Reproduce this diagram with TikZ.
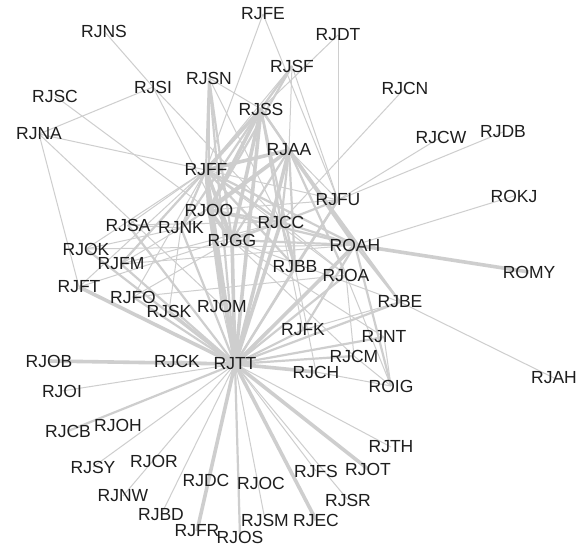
\documentclass[tikz,border=0pt]{standalone}
\usepackage{fontspec}
\setmainfont{Liberation Sans}
\definecolor{edgegray}{RGB}{206,206,206}
\definecolor{labelink}{RGB}{30,30,30}
\pgfdeclarelayer{edges}
\pgfsetlayers{edges,main}
\tikzset{
  lbl/.style={inner sep=0pt, text=labelink, font=\fontsize{17.5}{17.5}\selectfont},
  wthin/.style={draw=edgegray, line width=1pt},
  wmid/.style={draw=edgegray, line width=2.2pt},
  wthick/.style={draw=edgegray, line width=3.6pt},
}
\begin{document}
\begin{tikzpicture}[x=1pt,y=-1pt]
\useasboundingbox (0,0) rectangle (581,546);

% vertices
\foreach \n/\x/\y in {
  RJFE/263/14, RJNS/104/31, RJDT/338/35, RJSF/292/66, RJSN/209/78,
  RJSI/153/87, RJCN/405/88, RJSC/55/96, RJSS/261/109, RJNA/39/134,
  RJCW/441/137, RJDB/503/132, RJAA/289/150, RJFF/206/170, RJFU/338/200,
  ROKJ/514/196, RJOO/209/210, RJCC/281/222, RJSA/128/225, RJNK/181/228,
  RJGG/232/240, ROAH/355/245, RJOK/86/249, RJFM/121/264, RJBB/295/267,
  RJOA/346/275, ROMY/529/272, RJFT/79/287, RJFO/133/297, RJBE/400/302,
  RJSK/169/311, RJOM/222/306, RJFK/303/330, RJNT/384/337, RJCM/354/356,
  RJOB/49/361, RJCK/177/361, RJTT/235/364, RJCH/316/372, ROIG/391/386,
  RJAH/554/378, RJOI/62/391, RJCB/68/431, RJOH/118/425, RJSY/93/467,
  RJOR/154/461, RJNW/123/496, RJDC/206/480, RJOC/261/483, RJFS/316/471,
  RJOT/368/469, RJTH/391/447, RJSR/348/500, RJBD/161/515, RJEC/316/520,
  RJSM/265/520, RJFR/197/531, RJOS/240/537}
  \node[lbl] (\n) at (\x,\y) {\n};

\begin{pgfonlayer}{edges}
\fill[white] (0,0) rectangle (581,546);
% light ties
\foreach \a/\b in {
  RJFE/RJFF, RJFE/RJFU, RJDT/RJSS, RJDT/RJFU, RJSF/RJAA, RJSF/RJFU,
  RJSF/RJFF, RJSN/RJSS, RJSN/RJCC, RJNS/RJSI, RJSI/RJNA, RJSI/RJGG,
  RJSI/RJCC, RJSC/RJOO, RJNA/RJFF, RJNA/RJFT, RJNA/RJOM, RJCN/RJCC,
  RJCW/RJFU, RJDB/RJFU, ROKJ/ROAH, RJBE/RJAH, RJSS/RJFM, RJAA/RJFU,
  RJFF/RJFU, RJFF/RJOA, RJFF/RJSA, RJFF/RJOK, RJOO/RJFU, RJCC/RJFM,
  RJCC/RJSA, RJCC/RJOA, RJCC/RJFK, RJGG/RJBE, RJGG/RJNT, RJGG/RJCM,
  RJNK/RJSA, RJNK/RJFM, RJNK/RJOK, ROAH/RJFM, ROAH/RJOK, RJBB/RJCH,
  RJOA/ROIG, RJOA/RJFO, RJOA/RJCM, RJBE/RJFK, RJNT/ROIG, RJCM/ROIG,
  RJCH/ROIG, RJFT/RJFF, RJFT/RJCC, RJFO/RJFF, RJFO/RJGG, RJSK/RJNK,
  RJOM/RJTT, RJCK/RJTT, RJOI/RJTT, RJSY/RJTT, RJNW/RJTT, RJBD/RJTT,
  RJSM/RJTT, RJSR/RJTT, RJFS/RJTT, RJTH/RJTT}
  \draw[wthin] (\a.center) -- (\b.center);
% medium ties
\foreach \a/\b in {
  RJSF/RJSS, RJSF/RJOO, RJSN/RJFF, RJSN/RJOO, RJSN/RJGG, RJSN/RJTT,
  RJSS/RJAA, RJSS/RJCC, RJSS/RJNK, RJSS/RJBB, RJSS/ROAH, RJAA/RJGG,
  RJAA/RJCC, RJAA/RJNK, RJAA/RJBB, RJAA/RJOA, RJAA/RJBE, RJFF/RJCC,
  RJFF/RJNK, RJFF/ROAH, RJFF/RJFM, RJFF/RJBB, RJOO/RJCC, RJOO/ROAH,
  RJCC/RJGG, RJCC/ROAH, RJCC/RJFU, RJCC/RJBB, RJGG/ROAH, RJNK/RJTT,
  RJFU/RJTT, RJFU/RJBB, ROAH/RJFK, ROAH/RJBE, ROAH/ROIG, RJBB/RJTT,
  RJOA/RJTT, RJBE/RJTT, RJNT/RJTT, RJCM/RJTT, RJFK/RJTT, RJFO/RJTT,
  RJSK/RJTT, RJOM/RJOO, RJFM/RJTT, RJSA/RJTT, RJOK/RJTT, RJCB/RJTT,
  RJOS/RJTT}
  \draw[wmid] (\a.center) -- (\b.center);
% heavy ties
\foreach \a/\b in {
  ROAH/ROMY, RJSS/RJFF, RJSS/RJOO, RJSS/RJGG, RJSS/RJTT, RJAA/RJFF,
  RJAA/RJOO, RJAA/RJTT, RJAA/ROAH, RJFF/RJOO, RJFF/RJGG, RJFF/RJTT,
  RJOO/RJGG, RJOO/RJTT, RJCC/RJTT, RJGG/RJTT, ROAH/RJTT, RJCH/RJTT,
  RJFT/RJTT, RJOB/RJTT, RJFR/RJTT, RJEC/RJTT, RJOT/RJTT}
  \draw[wthick] (\a.center) -- (\b.center);
\end{pgfonlayer}
\end{tikzpicture}
\end{document}
